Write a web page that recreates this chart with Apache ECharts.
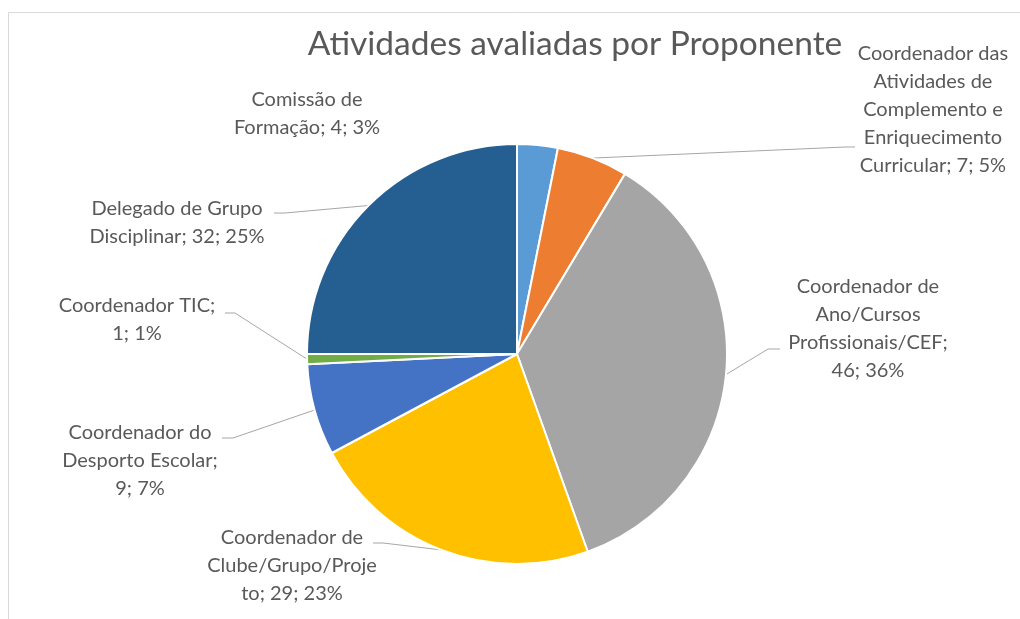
<!DOCTYPE html>
<html>
<head>
<meta charset="utf-8">
<script src="https://cdn.jsdelivr.net/npm/echarts@6/dist/echarts.min.js"></script>
<style>
  html, body { margin: 0; padding: 0; background: #fff; }
  #chart { width: 1020px; height: 619px; }
</style>
</head>
<body>
<div id="chart"></div>
<script>
// data, clockwise from 12 o'clock
const categories = [
  "Comissão de Formação",
  "Coordenador das Atividades de Complemento e Enriquecimento Curricular",
  "Coordenador de Ano/Cursos Profissionais/CEF",
  "Coordenador de Clube/Grupo/Projeto",
  "Coordenador do Desporto Escolar",
  "Coordenador TIC",
  "Delegado de Grupo Disciplinar",
];
const values = [4, 7, 46, 29, 9, 1, 32];

// label text as wrapped in the original
const labelTemplates = [
  "Comissão de\nFormação; {c}; {d}%",
  "Coordenador das\nAtividades de\nComplemento e\nEnriquecimento\nCurricular; {c}; {d}%",
  "Coordenador de\nAno/Cursos\nProfissionais/CEF;\n{c}; {d}%",
  "Coordenador de\nClube/Grupo/Proje\nto; {c}; {d}%",
  "Coordenador do\nDesporto Escolar;\n{c}; {d}%",
  "Coordenador TIC;\n{c}; {d}%",
  "Delegado de Grupo\nDisciplinar; {c}; {d}%",
];

const colors = ["#5B9BD5", "#ED7D31", "#A5A5A5", "#FFC000", "#4472C4", "#70AD47", "#255E91"];

// layout: label block centres, and where the leader line meets the text
const labelPos = [
  [307, 114], [933, 110], [868, 329], [292, 566], [140, 461], [137, 320], [177, 223],
];
const lineEnds = [
  null, [[845, 147], [855, 147]], [[768, 349], [780, 349]], [[383, 543], [373, 543]],
  [[233, 438], [222, 438]], [[235, 313], [225, 313]], [[285, 213], [274, 213]],
];

const CX = 517, CY = 354, R = 210;
const total = values.reduce((a, b) => a + b, 0);

// point on the pie edge at the middle of slice i
const edgePoint = (i) => {
  const before = values.slice(0, i).reduce((a, b) => a + b, 0);
  const ang = ((before + values[i] / 2) / total) * 2 * Math.PI;
  return [CX + R * Math.sin(ang), CY - R * Math.cos(ang)];
};

const textColor = "#595959";
const chart = echarts.init(document.getElementById("chart"));

chart.setOption({
  animation: false,
  color: colors,
  title: {
    text: "Atividades avaliadas por Proponente",
    left: 570,
    top: 22,
    textAlign: "center",
    textStyle: { fontFamily: "Lato", fontSize: 33.5, fontWeight: "normal", color: textColor },
  },
  graphic: [
    {
      type: "polyline",
      shape: { points: [[8.5, 619], [8.5, 12.5], [1020, 12.5]] },
      style: { stroke: "#d9d9d9", lineWidth: 1, fill: null },
      silent: true,
    },
  ],
  series: [
    {
      type: "pie",
      center: [CX, CY],
      radius: [0, R],
      startAngle: 90,
      clockwise: true,
      percentPrecision: 0,
      itemStyle: { borderColor: "#fff", borderWidth: 2 },
      label: {
        show: true,
        position: "outside",
        fontFamily: "Lato",
        fontSize: 20,
        lineHeight: 28,
        color: textColor,
        align: "center",
      },
      labelLine: {
        show: true,
        length: 10,
        length2: 10,
        smooth: false,
        lineStyle: { color: "#a6a6a6", width: 1 },
      },
      labelLayout: (params) => {
        const i = params.dataIndex;
        const p = labelPos[i];
        const out = { x: p[0], y: p[1], align: "center", verticalAlign: "middle" };
        if (lineEnds[i]) out.labelLinePoints = [edgePoint(i), ...lineEnds[i]];
        return out;
      },
      data: categories.map((name, i) => ({
        name,
        value: values[i],
        label: { formatter: labelTemplates[i] },
        labelLine: { show: i !== 0 },
      })),
    },
  ],
});
</script>
</body>
</html>
